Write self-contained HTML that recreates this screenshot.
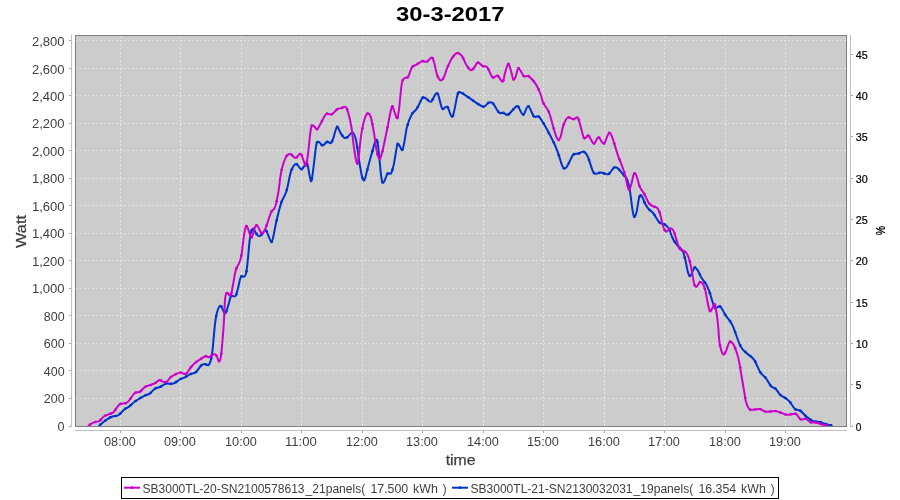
<!DOCTYPE html>
<html><head><meta charset="utf-8"><title>30-3-2017</title>
<style>html,body{margin:0;padding:0;background:#fff;}svg{display:block;will-change:transform;}text{font-family:"Liberation Sans",sans-serif;}</style></head><body>
<svg width="900" height="500" viewBox="0 0 900 500">
<rect x="0" y="0" width="900" height="500" fill="#ffffff"/>
<text x="450.3" y="20.8" font-size="20.5" font-weight="bold" fill="#000" text-anchor="middle" textLength="108.6" lengthAdjust="spacingAndGlyphs">30-3-2017</text>
<rect x="75" y="35" width="772" height="392" fill="#cccccc"/>
<g stroke="#ffffff" stroke-opacity="0.55" stroke-width="0.8" stroke-dasharray="2,2" fill="none"><line x1="76" x2="846" y1="398.50" y2="398.50"/><line x1="76" x2="846" y1="370.50" y2="370.50"/><line x1="76" x2="846" y1="343.50" y2="343.50"/><line x1="76" x2="846" y1="315.50" y2="315.50"/><line x1="76" x2="846" y1="288.50" y2="288.50"/><line x1="76" x2="846" y1="260.50" y2="260.50"/><line x1="76" x2="846" y1="233.50" y2="233.50"/><line x1="76" x2="846" y1="205.50" y2="205.50"/><line x1="76" x2="846" y1="178.50" y2="178.50"/><line x1="76" x2="846" y1="150.50" y2="150.50"/><line x1="76" x2="846" y1="123.50" y2="123.50"/><line x1="76" x2="846" y1="95.50" y2="95.50"/><line x1="76" x2="846" y1="68.50" y2="68.50"/><line x1="76" x2="846" y1="40.50" y2="40.50"/><line x1="120.50" x2="120.50" y1="36" y2="426"/><line x1="180.50" x2="180.50" y1="36" y2="426"/><line x1="241.50" x2="241.50" y1="36" y2="426"/><line x1="301.50" x2="301.50" y1="36" y2="426"/><line x1="362.50" x2="362.50" y1="36" y2="426"/><line x1="422.50" x2="422.50" y1="36" y2="426"/><line x1="483.50" x2="483.50" y1="36" y2="426"/><line x1="543.50" x2="543.50" y1="36" y2="426"/><line x1="604.50" x2="604.50" y1="36" y2="426"/><line x1="664.50" x2="664.50" y1="36" y2="426"/><line x1="725.50" x2="725.50" y1="36" y2="426"/><line x1="785.50" x2="785.50" y1="36" y2="426"/></g>
<clipPath id="cp"><rect x="76" y="36" width="770" height="390.5"/></clipPath>
<g clip-path="url(#cp)" fill="none" stroke-width="2" stroke-linejoin="round" stroke-linecap="round">
<path stroke="#0033cc" d="M99.3,425.5C100.2,424.8 102.8,422.4 104.7,421.0C106.7,419.6 108.9,417.9 111.0,417.0C113.1,416.1 115.8,416.1 117.3,415.6C118.8,415.1 118.8,414.9 120.0,413.8C121.2,412.8 123.0,410.5 124.5,409.3C126.0,408.1 127.2,408.0 129.0,406.6C130.8,405.2 132.8,403.0 135.3,401.2C137.9,399.4 141.9,397.1 144.3,395.8C146.7,394.5 147.9,394.8 149.7,393.6C151.5,392.4 153.3,389.7 155.1,388.6C156.9,387.5 158.7,387.6 160.5,386.8C162.3,386.0 163.8,384.1 165.9,383.6C168.0,383.1 170.7,384.3 173.1,383.6C175.5,382.9 178.4,380.2 180.3,379.2C182.2,378.2 183.2,378.2 184.8,377.4C186.5,376.6 188.4,375.0 190.2,374.2C192.0,373.4 193.8,373.8 195.6,372.4C197.4,371.0 199.5,367.1 201.0,365.7C202.5,364.3 203.4,364.1 204.6,364.0C205.8,363.9 207.2,365.6 208.2,365.2C209.2,364.8 209.7,363.7 210.4,361.6C211.1,359.5 211.7,355.9 212.2,352.6C212.7,349.3 212.8,347.0 213.3,342.0C213.8,337.0 214.5,327.7 215.2,322.5C215.9,317.3 216.6,313.6 217.5,310.8C218.4,308.0 219.5,305.7 220.6,305.8C221.7,305.9 223.0,310.5 223.8,311.7C224.6,312.9 224.8,314.1 225.6,313.0C226.3,311.9 227.4,308.2 228.3,305.4C229.2,302.6 229.8,298.0 231.0,296.4C232.2,294.8 234.3,297.5 235.5,296.0C236.7,294.5 237.3,290.6 238.2,287.4C239.1,284.2 239.8,278.8 240.9,277.0C242.0,275.2 243.6,277.4 244.5,276.6C245.4,275.8 245.8,274.9 246.3,272.1C246.9,269.3 247.2,266.0 247.8,260.0C248.5,254.0 249.3,241.4 250.2,236.2C251.0,231.0 252.0,229.2 252.9,228.6C253.8,228.0 254.7,231.4 255.6,232.6C256.5,233.8 257.4,235.4 258.3,235.8C259.2,236.2 259.8,236.3 261.0,235.3C262.2,234.3 264.3,229.9 265.5,229.9C266.7,229.9 267.2,233.3 268.2,235.3C269.2,237.3 270.5,242.0 271.4,242.0C272.3,242.0 272.8,238.7 273.6,235.3C274.4,231.9 275.0,227.2 276.3,221.8C277.6,216.4 279.5,208.0 281.2,202.9C282.9,197.8 284.9,196.3 286.5,191.0C288.1,185.7 289.5,175.6 291.1,171.1C292.7,166.6 294.4,164.2 296.0,163.9C297.6,163.6 299.6,169.0 301.0,169.3C302.4,169.6 303.6,166.6 304.6,165.7C305.7,164.8 306.5,162.2 307.3,163.9C308.1,165.6 308.9,172.8 309.6,175.6C310.3,178.4 310.7,182.5 311.4,181.0C312.1,179.5 312.8,172.6 313.6,166.6C314.4,160.6 315.5,149.1 316.3,145.0C317.1,140.9 317.6,141.7 318.6,141.8C319.7,141.9 321.2,145.4 322.6,145.4C324.0,145.4 325.8,142.2 327.1,141.8C328.5,141.4 329.6,143.9 330.7,143.2C331.8,142.5 332.3,140.5 333.4,137.8C334.4,135.1 335.9,127.9 337.0,127.0C338.1,126.1 339.0,130.6 340.2,132.4C341.4,134.2 342.9,137.1 344.2,137.8C345.5,138.6 346.4,137.8 347.8,136.9C349.2,136.0 351.0,132.0 352.3,132.4C353.6,132.8 354.7,134.5 355.9,139.6C357.1,144.7 358.4,156.7 359.5,163.0C360.6,169.3 361.4,174.6 362.2,177.4C363.0,180.2 363.6,181.0 364.4,180.1C365.1,179.2 365.4,176.7 366.7,172.0C368.0,167.3 370.5,157.6 372.1,152.2C373.7,146.8 375.1,140.2 376.2,139.6C377.2,139.0 377.6,142.6 378.4,148.6C379.2,154.6 380.3,169.9 381.1,175.6C381.9,181.3 382.3,183.1 383.4,182.8C384.4,182.5 386.1,175.4 387.4,173.8C388.7,172.2 389.9,174.9 391.0,173.4C392.1,171.9 392.6,169.5 393.7,164.8C394.8,160.1 396.3,148.2 397.3,145.0C398.3,141.8 398.8,145.1 399.6,145.9C400.4,146.7 401.4,150.8 402.2,150.0C403.0,149.2 403.7,145.2 404.5,141.4C405.3,137.6 405.8,131.4 407.0,127.0C408.2,122.5 409.9,117.8 411.6,114.7C413.3,111.6 415.2,111.2 417.0,108.4C418.8,105.6 420.9,99.7 422.4,98.0C423.9,96.3 424.6,97.9 426.0,98.5C427.4,99.1 429.1,102.6 431.0,101.7C432.9,100.8 435.3,92.0 437.2,93.1C439.1,94.2 440.5,106.2 442.2,108.4C443.9,110.7 445.5,105.2 447.2,106.6C448.9,107.9 450.8,118.5 452.5,116.5C454.2,114.5 456.2,99.0 457.5,94.9C458.8,90.9 458.6,91.9 460.2,92.2C461.8,92.5 463.6,94.3 467.4,96.7C471.1,99.1 479.2,105.5 482.7,106.6C486.1,107.6 486.5,103.6 488.1,103.0C489.8,102.4 490.8,101.4 492.6,103.0C494.4,104.6 497.1,110.8 498.9,112.4C500.7,114.1 501.9,112.5 503.4,112.9C504.9,113.3 506.1,115.5 507.9,114.7C509.7,114.0 512.6,109.8 514.2,108.4C515.9,107.0 516.3,105.2 517.8,106.2C519.3,107.2 521.5,114.7 523.2,114.7C524.9,114.7 526.4,105.9 528.2,106.2C530.0,106.5 532.3,114.8 534.0,116.5C535.7,118.2 536.9,115.3 538.5,116.4C540.1,117.5 541.0,119.1 543.5,123.3C546.0,127.5 551.0,136.9 553.4,141.8C555.8,146.7 556.4,148.6 557.9,152.6C559.4,156.6 561.2,163.5 562.4,166.1C563.6,168.7 564.1,168.7 565.1,168.4C566.1,168.1 566.9,166.6 568.2,164.3C569.6,162.0 571.5,156.6 573.2,154.8C574.9,153.0 576.9,154.0 578.6,153.5C580.3,153.0 582.1,151.2 583.6,151.7C585.1,152.1 586.0,152.9 587.6,156.2C589.2,159.5 591.6,168.6 593.0,171.5C594.4,174.4 594.9,173.7 596.2,173.8C597.6,174.0 599.1,172.3 601.1,172.4C603.1,172.5 606.2,174.9 608.3,174.2C610.4,173.4 612.2,168.9 613.7,167.9C615.2,166.9 615.7,166.8 617.3,167.9C618.9,169.0 621.5,172.6 623.1,174.5C624.7,176.4 626.0,176.8 627.1,179.4C628.2,182.0 628.9,185.1 629.8,190.2C630.7,195.3 631.8,205.6 632.5,210.0C633.2,214.4 633.6,216.5 634.3,216.8C635.0,217.1 635.8,215.0 636.6,211.8C637.4,208.6 638.4,200.1 639.2,197.4C640.0,194.7 640.5,194.6 641.5,195.6C642.5,196.6 643.9,201.4 645.1,203.7C646.3,205.9 647.4,207.5 648.7,209.1C650.1,210.7 651.4,210.9 653.2,213.2C655.0,215.4 657.7,220.8 659.5,222.6C661.3,224.4 662.5,223.1 664.0,224.0C665.5,224.9 667.1,225.8 668.5,228.0C669.9,230.2 671.1,234.8 672.1,237.0C673.1,239.2 673.3,239.6 674.3,241.2C675.3,242.8 676.7,244.7 678.1,246.3C679.5,247.9 681.4,248.6 682.6,250.8C683.8,253.1 684.4,256.2 685.3,259.8C686.2,263.4 687.2,269.7 688.0,272.4C688.8,275.1 689.5,276.1 690.2,276.0C691.0,275.9 691.7,272.9 692.5,271.5C693.3,270.1 693.9,267.5 694.8,267.4C695.7,267.2 696.8,268.9 697.9,270.6C699.0,272.3 700.1,275.6 701.5,277.8C702.9,280.1 704.6,281.7 706.0,284.1C707.4,286.5 708.4,288.9 709.6,292.2C710.8,295.5 712.2,301.2 713.2,303.9C714.2,306.6 714.4,308.0 715.4,308.4C716.4,308.8 718.4,306.0 719.5,306.2C720.6,306.4 721.2,307.7 722.2,309.3C723.2,310.9 724.6,313.7 725.8,315.6C727.0,317.5 728.4,318.6 729.6,320.5C730.9,322.4 731.5,322.9 733.3,327.2C735.1,331.5 738.2,341.8 740.5,346.1C742.8,350.5 744.5,351.1 746.8,353.3C749.0,355.6 751.8,356.5 754.0,359.6C756.2,362.8 758.3,369.1 760.3,372.2C762.2,375.3 763.9,375.7 765.7,378.0C767.5,380.3 769.5,384.4 771.1,386.2C772.8,388.0 774.1,387.4 775.6,388.8C777.1,390.2 778.6,393.3 780.3,394.9C782.0,396.5 784.2,397.1 785.8,398.3C787.4,399.5 788.6,400.4 790.1,402.2C791.6,404.0 793.3,407.6 795.0,409.0C796.7,410.4 798.7,409.6 800.5,410.8C802.3,412.0 803.9,414.6 806.0,416.3C808.1,418.0 811.0,420.2 813.3,421.2C815.5,422.1 817.5,421.5 819.5,422.0C821.5,422.5 823.6,423.4 825.6,424.0C827.6,424.6 830.7,425.2 831.7,425.5"/>
<g fill="#0033cc" stroke="none"><circle cx="100.3" cy="424.6" r="1.35"/><circle cx="105.4" cy="420.5" r="1.35"/><circle cx="110.4" cy="417.3" r="1.35"/><circle cx="115.5" cy="416.0" r="1.35"/><circle cx="120.5" cy="413.3" r="1.35"/><circle cx="125.5" cy="408.6" r="1.35"/><circle cx="130.6" cy="405.3" r="1.35"/><circle cx="135.6" cy="401.0" r="1.35"/><circle cx="140.7" cy="397.8" r="1.35"/><circle cx="145.7" cy="395.2" r="1.35"/><circle cx="150.7" cy="392.8" r="1.35"/><circle cx="155.8" cy="388.2" r="1.35"/><circle cx="160.8" cy="386.6" r="1.35"/><circle cx="165.8" cy="383.6" r="1.35"/><circle cx="170.9" cy="383.8" r="1.35"/><circle cx="175.9" cy="382.2" r="1.35"/><circle cx="181.0" cy="378.9" r="1.35"/><circle cx="186.0" cy="376.7" r="1.35"/><circle cx="191.0" cy="373.9" r="1.35"/><circle cx="196.1" cy="372.0" r="1.35"/><circle cx="201.1" cy="365.6" r="1.35"/><circle cx="206.1" cy="364.5" r="1.35"/><circle cx="211.2" cy="358.5" r="1.35"/><circle cx="216.2" cy="316.0" r="1.35"/><circle cx="221.3" cy="306.4" r="1.35"/><circle cx="226.3" cy="311.5" r="1.35"/><circle cx="231.3" cy="296.1" r="1.35"/><circle cx="236.4" cy="294.3" r="1.35"/><circle cx="241.4" cy="276.4" r="1.35"/><circle cx="246.4" cy="271.3" r="1.35"/><circle cx="251.5" cy="230.8" r="1.35"/><circle cx="256.5" cy="233.9" r="1.35"/><circle cx="261.6" cy="234.7" r="1.35"/><circle cx="266.6" cy="231.0" r="1.35"/><circle cx="271.6" cy="241.9" r="1.35"/><circle cx="276.7" cy="220.2" r="1.35"/><circle cx="281.7" cy="201.5" r="1.35"/><circle cx="286.7" cy="190.1" r="1.35"/><circle cx="291.8" cy="169.3" r="1.35"/><circle cx="296.8" cy="164.2" r="1.35"/><circle cx="301.9" cy="169.1" r="1.35"/><circle cx="306.9" cy="163.4" r="1.35"/><circle cx="311.9" cy="178.8" r="1.35"/><circle cx="317.0" cy="142.4" r="1.35"/><circle cx="322.0" cy="145.2" r="1.35"/><circle cx="327.1" cy="141.8" r="1.35"/><circle cx="332.1" cy="141.2" r="1.35"/><circle cx="337.1" cy="126.9" r="1.35"/><circle cx="342.2" cy="135.5" r="1.35"/><circle cx="347.2" cy="137.3" r="1.35"/><circle cx="352.2" cy="132.4" r="1.35"/><circle cx="357.3" cy="147.5" r="1.35"/><circle cx="362.3" cy="177.8" r="1.35"/><circle cx="367.4" cy="169.6" r="1.35"/><circle cx="372.4" cy="151.2" r="1.35"/><circle cx="377.4" cy="141.9" r="1.35"/><circle cx="382.5" cy="182.2" r="1.35"/><circle cx="387.5" cy="173.7" r="1.35"/><circle cx="392.5" cy="169.6" r="1.35"/><circle cx="397.6" cy="144.2" r="1.35"/><circle cx="402.6" cy="149.3" r="1.35"/><circle cx="407.7" cy="124.7" r="1.35"/><circle cx="412.7" cy="113.0" r="1.35"/><circle cx="417.7" cy="107.1" r="1.35"/><circle cx="422.8" cy="97.6" r="1.35"/><circle cx="427.8" cy="100.1" r="1.35"/><circle cx="432.8" cy="99.2" r="1.35"/><circle cx="437.9" cy="94.0" r="1.35"/><circle cx="442.9" cy="108.9" r="1.35"/><circle cx="448.0" cy="107.7" r="1.35"/><circle cx="453.0" cy="115.6" r="1.35"/><circle cx="458.0" cy="93.3" r="1.35"/><circle cx="463.1" cy="93.7" r="1.35"/><circle cx="468.1" cy="97.2" r="1.35"/><circle cx="473.2" cy="100.7" r="1.35"/><circle cx="478.2" cy="104.2" r="1.35"/><circle cx="483.2" cy="106.7" r="1.35"/><circle cx="488.3" cy="102.9" r="1.35"/><circle cx="493.3" cy="103.8" r="1.35"/><circle cx="498.3" cy="111.8" r="1.35"/><circle cx="503.4" cy="112.9" r="1.35"/><circle cx="508.4" cy="114.4" r="1.35"/><circle cx="513.5" cy="109.1" r="1.35"/><circle cx="518.5" cy="107.0" r="1.35"/><circle cx="523.5" cy="114.6" r="1.35"/><circle cx="528.6" cy="106.4" r="1.35"/><circle cx="533.6" cy="116.0" r="1.35"/><circle cx="538.6" cy="116.5" r="1.35"/><circle cx="543.7" cy="123.6" r="1.35"/><circle cx="548.7" cy="132.8" r="1.35"/><circle cx="553.8" cy="142.5" r="1.35"/><circle cx="558.8" cy="155.2" r="1.35"/><circle cx="563.8" cy="168.3" r="1.35"/><circle cx="568.9" cy="163.0" r="1.35"/><circle cx="573.9" cy="154.2" r="1.35"/><circle cx="578.9" cy="153.4" r="1.35"/><circle cx="584.0" cy="151.8" r="1.35"/><circle cx="589.0" cy="159.9" r="1.35"/><circle cx="594.1" cy="173.2" r="1.35"/><circle cx="599.1" cy="172.8" r="1.35"/><circle cx="604.1" cy="173.4" r="1.35"/><circle cx="609.2" cy="173.7" r="1.35"/><circle cx="614.2" cy="167.6" r="1.35"/><circle cx="619.2" cy="169.8" r="1.35"/><circle cx="624.3" cy="175.7" r="1.35"/><circle cx="629.3" cy="187.6" r="1.35"/><circle cx="634.4" cy="216.8" r="1.35"/><circle cx="639.4" cy="196.8" r="1.35"/><circle cx="644.4" cy="202.3" r="1.35"/><circle cx="649.5" cy="209.9" r="1.35"/><circle cx="654.5" cy="215.1" r="1.35"/><circle cx="659.6" cy="222.6" r="1.35"/><circle cx="664.6" cy="224.4" r="1.35"/><circle cx="669.6" cy="230.3" r="1.35"/><circle cx="674.7" cy="241.8" r="1.35"/><circle cx="679.7" cy="247.7" r="1.35"/><circle cx="684.7" cy="257.5" r="1.35"/><circle cx="689.8" cy="276.0" r="1.35"/><circle cx="694.8" cy="267.4" r="1.35"/><circle cx="699.9" cy="274.5" r="1.35"/><circle cx="704.9" cy="282.4" r="1.35"/><circle cx="709.9" cy="293.2" r="1.35"/><circle cx="715.0" cy="308.1" r="1.35"/><circle cx="720.0" cy="306.4" r="1.35"/><circle cx="725.0" cy="314.4" r="1.35"/><circle cx="730.1" cy="321.2" r="1.35"/><circle cx="735.1" cy="332.0" r="1.35"/><circle cx="740.2" cy="345.4" r="1.35"/><circle cx="745.2" cy="351.8" r="1.35"/><circle cx="750.2" cy="356.0" r="1.35"/><circle cx="755.3" cy="361.7" r="1.35"/><circle cx="760.3" cy="372.2" r="1.35"/><circle cx="765.3" cy="377.6" r="1.35"/><circle cx="770.4" cy="385.3" r="1.35"/><circle cx="775.4" cy="388.6" r="1.35"/><circle cx="780.5" cy="395.0" r="1.35"/><circle cx="785.5" cy="398.1" r="1.35"/><circle cx="790.5" cy="402.8" r="1.35"/><circle cx="795.6" cy="409.4" r="1.35"/><circle cx="800.6" cy="410.9" r="1.35"/><circle cx="805.7" cy="416.0" r="1.35"/><circle cx="810.7" cy="419.8" r="1.35"/><circle cx="815.7" cy="421.7" r="1.35"/><circle cx="820.8" cy="422.3" r="1.35"/><circle cx="825.8" cy="424.1" r="1.35"/><circle cx="830.8" cy="425.3" r="1.35"/></g>
<path stroke="#cc00cc" d="M88.5,425.5C89.4,425.0 92.1,423.1 93.9,422.4C95.7,421.6 97.7,422.0 99.3,421.0C100.9,420.0 102.1,417.6 103.8,416.5C105.5,415.4 107.5,414.9 109.2,414.2C110.9,413.4 112.0,413.6 113.7,412.0C115.4,410.4 117.3,406.0 119.6,404.4C121.8,402.8 124.7,404.3 127.2,402.5C129.7,400.7 132.3,395.3 134.4,393.5C136.5,391.7 138.0,392.9 139.8,391.8C141.6,390.7 143.4,387.9 145.2,386.8C147.0,385.7 148.9,385.6 150.6,385.0C152.2,384.4 153.6,384.0 155.1,383.2C156.6,382.4 158.2,380.2 159.6,380.0C160.9,379.8 162.0,381.5 163.2,381.8C164.4,382.1 165.6,382.5 166.8,381.8C168.0,381.1 168.9,378.7 170.4,377.4C171.9,376.1 174.2,375.0 175.8,374.2C177.5,373.4 179.0,372.5 180.3,372.4C181.7,372.3 182.9,373.6 183.9,373.8C184.9,374.0 185.4,374.4 186.6,373.3C187.8,372.2 189.6,368.8 191.1,367.0C192.6,365.2 193.9,363.9 195.6,362.5C197.2,361.1 199.3,359.9 201.0,358.9C202.7,357.8 204.2,356.5 205.5,356.2C206.8,355.9 207.6,357.5 209.1,357.1C210.6,356.7 213.2,354.0 214.5,354.0C215.8,354.0 216.4,355.8 217.2,357.1C217.9,358.4 218.4,362.0 219.0,362.0C219.6,362.0 220.2,360.3 220.8,357.1C221.4,353.9 221.8,348.6 222.3,343.0C222.8,337.4 223.3,330.9 223.8,323.4C224.3,315.9 224.6,303.3 225.2,298.2C225.8,293.1 226.4,293.4 227.4,292.8C228.4,292.2 229.7,298.2 231.0,294.6C232.3,291.0 234.2,276.4 235.5,271.2C236.8,265.9 238.1,265.6 239.1,263.1C240.1,260.6 240.5,260.5 241.3,256.0C242.1,251.5 243.2,241.0 243.9,236.2C244.6,231.4 245.1,228.7 245.7,227.2C246.3,225.7 246.8,225.8 247.5,227.2C248.2,228.5 249.4,233.7 250.2,235.3C250.9,237.0 251.4,237.8 252.0,237.1C252.6,236.3 253.1,232.8 253.8,230.8C254.5,228.9 255.2,226.0 256.0,225.4C256.8,224.8 257.5,226.0 258.3,227.2C259.1,228.4 260.2,231.6 261.0,232.6C261.8,233.6 262.4,233.9 263.2,233.0C264.0,232.1 264.7,230.6 266.0,227.2C267.3,223.8 269.5,216.0 270.9,212.8C272.3,209.7 273.6,210.0 274.5,208.3C275.4,206.7 275.6,206.1 276.3,202.9C277.0,199.7 278.0,194.5 278.8,189.3C279.6,184.2 280.1,177.3 281.2,172.0C282.3,166.7 284.2,160.6 285.7,157.6C287.2,154.6 288.5,153.9 290.2,154.0C291.9,154.1 293.9,158.1 295.6,158.0C297.3,157.9 299.2,153.1 300.6,153.6C302.0,154.1 302.8,159.2 303.7,161.2C304.6,163.2 305.2,167.2 306.0,165.7C306.8,164.2 307.4,158.3 308.2,152.2C309.0,146.0 310.1,133.2 310.9,128.8C311.7,124.4 312.1,125.5 313.2,125.6C314.2,125.7 315.9,129.7 317.2,129.2C318.5,128.7 319.7,125.0 321.2,122.5C322.7,120.0 324.5,115.3 326.2,114.0C327.9,112.7 329.8,115.2 331.6,114.4C333.4,113.6 335.4,110.5 337.0,109.4C338.6,108.4 340.1,108.5 341.5,108.1C342.9,107.7 344.5,106.0 345.6,106.8C346.7,107.5 347.2,109.2 348.2,112.6C349.2,116.0 350.4,121.0 351.4,127.0C352.4,133.0 353.2,142.6 354.1,148.6C355.0,154.6 356.1,161.5 356.8,163.0C357.6,164.5 357.9,162.4 358.6,157.6C359.4,152.8 360.2,140.8 361.3,134.2C362.4,127.6 363.8,121.5 364.9,118.0C366.0,114.5 367.0,113.7 368.0,113.5C369.0,113.3 369.8,113.9 370.8,117.1C371.8,120.2 372.9,126.9 373.9,132.4C374.9,138.0 375.7,146.0 376.6,150.4C377.5,154.8 378.4,158.6 379.3,159.0C380.2,159.4 380.8,157.5 382.0,153.1C383.2,148.7 385.1,138.9 386.5,132.4C387.9,125.9 389.2,118.4 390.1,114.0C391.1,109.6 391.5,106.5 392.2,106.2C392.9,105.9 393.7,110.0 394.5,112.0C395.3,114.0 396.4,118.7 397.2,118.3C397.9,117.9 398.2,115.2 399.0,109.5C399.8,103.8 400.8,89.3 401.7,84.1C402.6,78.9 403.3,79.4 404.4,78.2C405.4,77.0 406.7,78.7 408.0,76.9C409.3,75.1 410.5,69.5 412.0,67.4C413.5,65.3 415.3,65.3 417.0,64.3C418.7,63.3 420.4,61.7 422.0,61.2C423.6,60.8 425.3,62.2 426.9,61.6C428.5,61.0 430.6,57.4 431.8,57.5C433.0,57.6 433.2,59.6 434.1,62.5C435.0,65.4 436.1,72.1 437.2,75.1C438.3,78.1 439.8,80.2 440.9,80.5C442.0,80.8 442.9,79.0 444.0,76.9C445.1,74.8 445.8,71.1 447.2,67.9C448.6,64.8 450.4,60.5 452.1,58.0C453.8,55.5 455.9,53.3 457.5,53.0C459.1,52.7 460.5,54.2 462.0,56.2C463.5,58.2 465.0,62.9 466.5,65.2C468.0,67.5 469.6,69.9 471.0,70.2C472.4,70.5 473.5,68.3 474.6,67.0C475.7,65.7 476.5,62.6 477.8,62.5C479.1,62.4 481.1,65.3 482.7,66.1C484.3,66.9 485.5,65.5 487.2,67.4C488.9,69.3 490.9,76.0 492.6,77.4C494.3,78.8 496.0,74.9 497.6,75.6C499.2,76.3 501.2,82.3 502.5,81.8C503.8,81.3 504.2,75.4 505.2,72.4C506.1,69.4 507.3,64.2 508.2,63.8C509.1,63.3 509.8,67.1 510.6,69.7C511.5,72.3 512.5,78.0 513.3,79.2C514.1,80.4 514.8,78.7 515.6,76.9C516.4,75.1 517.3,69.5 518.1,68.4C518.9,67.4 519.5,69.3 520.5,70.6C521.5,71.9 522.8,75.5 524.1,76.4C525.4,77.3 526.7,75.3 528.2,76.0C529.7,76.7 531.5,78.6 533.1,80.5C534.7,82.4 536.3,84.7 537.6,87.2C538.9,89.7 540.0,92.9 541.0,95.5C542.0,98.1 542.0,100.2 543.3,103.0C544.6,105.8 547.2,108.0 548.9,112.1C550.6,116.2 552.1,123.2 553.4,127.4C554.7,131.6 555.7,135.2 556.6,137.3C557.5,139.4 558.1,140.3 558.8,140.0C559.5,139.7 560.2,137.9 561.0,135.5C561.8,133.1 562.2,128.6 563.3,125.6C564.4,122.6 566.1,118.5 567.8,117.5C569.4,116.5 571.6,119.3 573.2,119.3C574.9,119.3 576.5,116.5 577.7,117.5C578.9,118.5 579.4,122.3 580.4,125.6C581.4,128.9 582.7,135.3 583.6,137.3C584.5,139.3 585.0,138.1 585.8,137.8C586.6,137.5 587.1,134.5 588.5,135.5C589.9,136.5 592.2,143.3 593.9,143.6C595.5,143.9 596.8,137.3 598.4,137.3C600.0,137.3 602.1,144.3 603.8,143.6C605.5,142.9 607.4,134.4 608.8,133.2C610.1,132.0 610.3,132.6 611.9,136.4C613.5,140.2 616.5,151.3 618.2,156.2C619.9,161.0 620.7,162.2 621.9,165.5C623.1,168.8 624.3,172.3 625.3,175.8C626.2,179.3 626.9,184.3 627.6,186.6C628.3,188.9 628.7,190.4 629.4,189.8C630.1,189.2 630.9,185.6 631.6,183.0C632.4,180.4 633.1,175.3 633.9,174.0C634.6,172.7 635.1,172.8 636.1,174.9C637.1,177.0 638.4,183.4 639.7,186.6C641.1,189.8 642.7,191.1 644.2,193.8C645.7,196.5 647.2,200.7 648.7,202.8C650.2,204.9 651.8,205.6 653.2,206.4C654.6,207.2 656.1,206.6 657.2,207.8C658.3,209.0 659.0,210.5 660.0,213.6C661.0,216.7 662.1,223.2 663.1,226.2C664.1,229.2 664.9,231.0 665.8,231.6C666.7,232.2 667.6,230.3 668.5,229.8C669.4,229.3 670.3,228.1 671.2,228.4C672.1,228.7 673.0,229.5 673.9,231.6C674.8,233.7 675.9,238.3 676.9,241.2C677.9,244.1 678.3,247.1 679.9,249.0C681.5,250.9 684.6,250.8 686.2,252.6C687.8,254.4 688.4,256.5 689.4,259.8C690.4,263.1 691.2,268.3 692.0,272.4C692.8,276.4 693.5,281.7 694.3,284.1C695.1,286.5 695.7,287.1 696.6,286.8C697.5,286.5 698.7,282.9 699.7,282.3C700.7,281.7 701.5,282.0 702.4,283.2C703.3,284.4 704.2,286.2 705.1,289.5C706.0,292.8 707.0,299.4 707.8,303.0C708.6,306.6 709.2,310.2 710.0,311.1C710.8,312.0 711.5,309.6 712.3,308.4C713.1,307.2 713.9,303.3 714.6,303.9C715.3,304.5 715.8,308.6 716.4,312.0C717.0,315.4 717.5,319.6 718.0,324.5C718.5,329.4 718.8,337.1 719.4,341.6C720.0,346.1 720.9,349.3 721.6,351.5C722.3,353.7 723.0,354.8 723.8,354.6C724.5,354.5 725.2,352.6 726.1,350.6C727.0,348.6 728.3,343.9 729.2,342.5C730.1,341.1 730.5,341.1 731.5,342.0C732.5,342.9 733.9,345.0 735.1,347.9C736.3,350.8 737.6,354.7 738.7,359.6C739.8,364.6 740.8,371.9 741.8,377.6C742.8,383.3 743.9,389.9 744.6,394.0C745.3,398.1 745.3,399.7 746.1,402.2C746.9,404.7 748.2,407.7 749.2,409.0C750.2,410.3 750.5,409.8 752.2,409.8C753.9,409.8 757.2,408.7 759.6,409.0C762.0,409.3 763.6,411.5 766.3,411.8C768.9,412.1 772.4,410.6 775.5,411.0C778.6,411.4 783.0,413.8 785.2,414.4C787.4,415.0 787.2,414.8 788.9,414.7C790.6,414.6 793.8,413.1 795.6,413.8C797.4,414.5 798.8,417.7 799.9,418.7C801.0,419.7 801.3,419.6 802.3,419.6C803.3,419.6 804.6,418.2 806.0,418.7C807.4,419.2 809.3,421.8 810.9,422.4C812.5,423.0 813.8,422.0 815.8,422.4C817.8,422.8 821.2,424.3 823.1,424.8C825.0,425.3 826.7,425.4 827.4,425.5"/>
<g fill="#cc00cc" stroke="none"><circle cx="90.3" cy="424.4" r="1.35"/><circle cx="95.3" cy="422.0" r="1.35"/><circle cx="100.3" cy="420.2" r="1.35"/><circle cx="105.4" cy="415.6" r="1.35"/><circle cx="110.4" cy="413.7" r="1.35"/><circle cx="115.5" cy="409.7" r="1.35"/><circle cx="120.5" cy="403.9" r="1.35"/><circle cx="125.5" cy="403.3" r="1.35"/><circle cx="130.6" cy="398.5" r="1.35"/><circle cx="135.6" cy="392.7" r="1.35"/><circle cx="140.7" cy="391.2" r="1.35"/><circle cx="145.7" cy="386.5" r="1.35"/><circle cx="150.7" cy="385.0" r="1.35"/><circle cx="155.8" cy="382.8" r="1.35"/><circle cx="160.8" cy="380.3" r="1.35"/><circle cx="165.8" cy="382.2" r="1.35"/><circle cx="170.9" cy="377.0" r="1.35"/><circle cx="175.9" cy="374.1" r="1.35"/><circle cx="181.0" cy="372.5" r="1.35"/><circle cx="186.0" cy="373.8" r="1.35"/><circle cx="191.0" cy="367.1" r="1.35"/><circle cx="196.1" cy="362.1" r="1.35"/><circle cx="201.1" cy="358.8" r="1.35"/><circle cx="206.1" cy="356.2" r="1.35"/><circle cx="211.2" cy="355.9" r="1.35"/><circle cx="216.2" cy="355.3" r="1.35"/><circle cx="221.3" cy="353.8" r="1.35"/><circle cx="226.3" cy="293.6" r="1.35"/><circle cx="231.3" cy="293.5" r="1.35"/><circle cx="236.4" cy="268.4" r="1.35"/><circle cx="241.4" cy="255.4" r="1.35"/><circle cx="246.4" cy="226.1" r="1.35"/><circle cx="251.5" cy="237.4" r="1.35"/><circle cx="256.5" cy="225.3" r="1.35"/><circle cx="261.6" cy="233.2" r="1.35"/><circle cx="266.6" cy="225.5" r="1.35"/><circle cx="271.6" cy="211.4" r="1.35"/><circle cx="276.7" cy="201.2" r="1.35"/><circle cx="281.7" cy="169.8" r="1.35"/><circle cx="286.7" cy="155.8" r="1.35"/><circle cx="291.8" cy="154.9" r="1.35"/><circle cx="296.8" cy="157.3" r="1.35"/><circle cx="301.9" cy="155.5" r="1.35"/><circle cx="306.9" cy="161.8" r="1.35"/><circle cx="311.9" cy="125.5" r="1.35"/><circle cx="317.0" cy="129.2" r="1.35"/><circle cx="322.0" cy="121.0" r="1.35"/><circle cx="327.1" cy="113.6" r="1.35"/><circle cx="332.1" cy="114.1" r="1.35"/><circle cx="337.1" cy="109.3" r="1.35"/><circle cx="342.2" cy="107.8" r="1.35"/><circle cx="347.2" cy="109.4" r="1.35"/><circle cx="352.2" cy="133.1" r="1.35"/><circle cx="357.3" cy="163.5" r="1.35"/><circle cx="362.3" cy="128.5" r="1.35"/><circle cx="367.4" cy="113.7" r="1.35"/><circle cx="372.4" cy="124.0" r="1.35"/><circle cx="377.4" cy="154.2" r="1.35"/><circle cx="382.5" cy="151.3" r="1.35"/><circle cx="387.5" cy="127.3" r="1.35"/><circle cx="392.5" cy="106.4" r="1.35"/><circle cx="397.6" cy="117.8" r="1.35"/><circle cx="402.6" cy="80.4" r="1.35"/><circle cx="407.7" cy="77.3" r="1.35"/><circle cx="412.7" cy="66.6" r="1.35"/><circle cx="417.7" cy="63.8" r="1.35"/><circle cx="422.8" cy="61.1" r="1.35"/><circle cx="427.8" cy="61.0" r="1.35"/><circle cx="432.8" cy="58.4" r="1.35"/><circle cx="437.9" cy="76.7" r="1.35"/><circle cx="442.9" cy="78.9" r="1.35"/><circle cx="448.0" cy="66.1" r="1.35"/><circle cx="453.0" cy="56.8" r="1.35"/><circle cx="458.0" cy="53.0" r="1.35"/><circle cx="463.1" cy="58.0" r="1.35"/><circle cx="468.1" cy="67.6" r="1.35"/><circle cx="473.2" cy="68.9" r="1.35"/><circle cx="478.2" cy="62.5" r="1.35"/><circle cx="483.2" cy="66.3" r="1.35"/><circle cx="488.3" cy="69.1" r="1.35"/><circle cx="493.3" cy="77.7" r="1.35"/><circle cx="498.3" cy="76.2" r="1.35"/><circle cx="503.4" cy="80.4" r="1.35"/><circle cx="508.4" cy="63.8" r="1.35"/><circle cx="513.5" cy="79.4" r="1.35"/><circle cx="518.5" cy="68.1" r="1.35"/><circle cx="523.5" cy="75.8" r="1.35"/><circle cx="528.6" cy="76.2" r="1.35"/><circle cx="533.6" cy="81.1" r="1.35"/><circle cx="538.6" cy="89.4" r="1.35"/><circle cx="543.7" cy="103.7" r="1.35"/><circle cx="548.7" cy="111.7" r="1.35"/><circle cx="553.8" cy="128.6" r="1.35"/><circle cx="558.8" cy="140.0" r="1.35"/><circle cx="563.8" cy="124.2" r="1.35"/><circle cx="568.9" cy="117.3" r="1.35"/><circle cx="573.9" cy="119.1" r="1.35"/><circle cx="578.9" cy="120.1" r="1.35"/><circle cx="584.0" cy="138.0" r="1.35"/><circle cx="589.0" cy="136.1" r="1.35"/><circle cx="594.1" cy="143.6" r="1.35"/><circle cx="599.1" cy="137.7" r="1.35"/><circle cx="604.1" cy="143.4" r="1.35"/><circle cx="609.2" cy="132.9" r="1.35"/><circle cx="614.2" cy="143.3" r="1.35"/><circle cx="619.2" cy="159.1" r="1.35"/><circle cx="624.3" cy="172.4" r="1.35"/><circle cx="629.3" cy="189.9" r="1.35"/><circle cx="634.4" cy="173.3" r="1.35"/><circle cx="639.4" cy="185.8" r="1.35"/><circle cx="644.4" cy="194.2" r="1.35"/><circle cx="649.5" cy="203.8" r="1.35"/><circle cx="654.5" cy="206.8" r="1.35"/><circle cx="659.6" cy="212.3" r="1.35"/><circle cx="664.6" cy="230.0" r="1.35"/><circle cx="669.6" cy="229.0" r="1.35"/><circle cx="674.7" cy="233.7" r="1.35"/><circle cx="679.7" cy="248.7" r="1.35"/><circle cx="684.7" cy="251.5" r="1.35"/><circle cx="689.8" cy="261.2" r="1.35"/><circle cx="694.8" cy="285.5" r="1.35"/><circle cx="699.9" cy="282.2" r="1.35"/><circle cx="704.9" cy="288.8" r="1.35"/><circle cx="709.9" cy="311.0" r="1.35"/><circle cx="715.0" cy="304.6" r="1.35"/><circle cx="720.0" cy="345.3" r="1.35"/><circle cx="725.0" cy="353.0" r="1.35"/><circle cx="730.1" cy="341.5" r="1.35"/><circle cx="735.1" cy="348.0" r="1.35"/><circle cx="740.2" cy="367.4" r="1.35"/><circle cx="745.2" cy="397.8" r="1.35"/><circle cx="750.2" cy="409.8" r="1.35"/><circle cx="755.3" cy="409.3" r="1.35"/><circle cx="760.3" cy="409.2" r="1.35"/><circle cx="765.3" cy="411.6" r="1.35"/><circle cx="770.4" cy="411.4" r="1.35"/><circle cx="775.4" cy="411.0" r="1.35"/><circle cx="780.5" cy="412.5" r="1.35"/><circle cx="785.5" cy="414.5" r="1.35"/><circle cx="790.5" cy="414.4" r="1.35"/><circle cx="795.6" cy="413.8" r="1.35"/><circle cx="800.6" cy="419.3" r="1.35"/><circle cx="805.7" cy="418.6" r="1.35"/><circle cx="810.7" cy="422.3" r="1.35"/><circle cx="815.7" cy="422.4" r="1.35"/><circle cx="820.8" cy="424.0" r="1.35"/><circle cx="825.8" cy="425.3" r="1.35"/></g>
</g>
<rect x="75.5" y="35.5" width="771" height="391" fill="none" stroke="#7f7f7f" stroke-width="1"/>
<g stroke="#bfbfbf" stroke-width="1" fill="none" shape-rendering="crispEdges">
<line x1="71.5" x2="71.5" y1="35" y2="427"/>
<line x1="850.5" x2="850.5" y1="35" y2="427"/>
<line x1="75" x2="847" y1="430.5" y2="430.5"/>
</g>
<g stroke="#a6a6a6" stroke-width="1" fill="none"><line x1="69" x2="71" y1="426.50" y2="426.50"/><line x1="69" x2="71" y1="398.50" y2="398.50"/><line x1="69" x2="71" y1="370.50" y2="370.50"/><line x1="69" x2="71" y1="343.50" y2="343.50"/><line x1="69" x2="71" y1="315.50" y2="315.50"/><line x1="69" x2="71" y1="288.50" y2="288.50"/><line x1="69" x2="71" y1="260.50" y2="260.50"/><line x1="69" x2="71" y1="233.50" y2="233.50"/><line x1="69" x2="71" y1="205.50" y2="205.50"/><line x1="69" x2="71" y1="178.50" y2="178.50"/><line x1="69" x2="71" y1="150.50" y2="150.50"/><line x1="69" x2="71" y1="123.50" y2="123.50"/><line x1="69" x2="71" y1="95.50" y2="95.50"/><line x1="69" x2="71" y1="68.50" y2="68.50"/><line x1="69" x2="71" y1="40.50" y2="40.50"/><line x1="851" x2="853" y1="426.50" y2="426.50"/><line x1="851" x2="853" y1="384.50" y2="384.50"/><line x1="851" x2="853" y1="343.50" y2="343.50"/><line x1="851" x2="853" y1="302.50" y2="302.50"/><line x1="851" x2="853" y1="260.50" y2="260.50"/><line x1="851" x2="853" y1="219.50" y2="219.50"/><line x1="851" x2="853" y1="178.50" y2="178.50"/><line x1="851" x2="853" y1="136.50" y2="136.50"/><line x1="851" x2="853" y1="95.50" y2="95.50"/><line x1="851" x2="853" y1="54.50" y2="54.50"/><line x1="120.50" x2="120.50" y1="431" y2="433"/><line x1="180.50" x2="180.50" y1="431" y2="433"/><line x1="241.50" x2="241.50" y1="431" y2="433"/><line x1="301.50" x2="301.50" y1="431" y2="433"/><line x1="362.50" x2="362.50" y1="431" y2="433"/><line x1="422.50" x2="422.50" y1="431" y2="433"/><line x1="483.50" x2="483.50" y1="431" y2="433"/><line x1="543.50" x2="543.50" y1="431" y2="433"/><line x1="604.50" x2="604.50" y1="431" y2="433"/><line x1="664.50" x2="664.50" y1="431" y2="433"/><line x1="725.50" x2="725.50" y1="431" y2="433"/><line x1="785.50" x2="785.50" y1="431" y2="433"/></g>
<g font-size="12" fill="#404040"><text x="64.6" y="430.6" text-anchor="end" textLength="7.0" lengthAdjust="spacingAndGlyphs">0</text><text x="64.6" y="403.1" text-anchor="end" textLength="20.8" lengthAdjust="spacingAndGlyphs">200</text><text x="64.6" y="375.7" text-anchor="end" textLength="20.8" lengthAdjust="spacingAndGlyphs">400</text><text x="64.6" y="348.2" text-anchor="end" textLength="20.8" lengthAdjust="spacingAndGlyphs">600</text><text x="64.6" y="320.7" text-anchor="end" textLength="20.8" lengthAdjust="spacingAndGlyphs">800</text><text x="64.6" y="293.2" text-anchor="end" textLength="32.6" lengthAdjust="spacingAndGlyphs">1,000</text><text x="64.6" y="265.8" text-anchor="end" textLength="32.6" lengthAdjust="spacingAndGlyphs">1,200</text><text x="64.6" y="238.3" text-anchor="end" textLength="32.6" lengthAdjust="spacingAndGlyphs">1,400</text><text x="64.6" y="210.8" text-anchor="end" textLength="32.6" lengthAdjust="spacingAndGlyphs">1,600</text><text x="64.6" y="183.4" text-anchor="end" textLength="32.6" lengthAdjust="spacingAndGlyphs">1,800</text><text x="64.6" y="155.9" text-anchor="end" textLength="32.6" lengthAdjust="spacingAndGlyphs">2,000</text><text x="64.6" y="128.4" text-anchor="end" textLength="32.6" lengthAdjust="spacingAndGlyphs">2,200</text><text x="64.6" y="101.0" text-anchor="end" textLength="32.6" lengthAdjust="spacingAndGlyphs">2,400</text><text x="64.6" y="73.5" text-anchor="end" textLength="32.6" lengthAdjust="spacingAndGlyphs">2,600</text><text x="64.6" y="46.0" text-anchor="end" textLength="32.6" lengthAdjust="spacingAndGlyphs">2,800</text></g>
<g font-size="10" fill="#000" stroke="#000" stroke-width="0.2"><text x="855.7" y="430.6" textLength="5.6" lengthAdjust="spacingAndGlyphs">0</text><text x="855.7" y="388.6" textLength="5.6" lengthAdjust="spacingAndGlyphs">5</text><text x="855.7" y="347.6" textLength="12.0" lengthAdjust="spacingAndGlyphs">10</text><text x="855.7" y="306.6" textLength="12.0" lengthAdjust="spacingAndGlyphs">15</text><text x="855.7" y="264.6" textLength="12.0" lengthAdjust="spacingAndGlyphs">20</text><text x="855.7" y="223.6" textLength="12.0" lengthAdjust="spacingAndGlyphs">25</text><text x="855.7" y="182.6" textLength="12.0" lengthAdjust="spacingAndGlyphs">30</text><text x="855.7" y="140.6" textLength="12.0" lengthAdjust="spacingAndGlyphs">35</text><text x="855.7" y="99.6" textLength="12.0" lengthAdjust="spacingAndGlyphs">40</text><text x="855.7" y="58.6" textLength="12.0" lengthAdjust="spacingAndGlyphs">45</text></g>
<g font-size="12" fill="#404040"><text x="119.9" y="446.4" text-anchor="middle" textLength="31.8" lengthAdjust="spacingAndGlyphs">08:00</text><text x="179.9" y="446.4" text-anchor="middle" textLength="31.8" lengthAdjust="spacingAndGlyphs">09:00</text><text x="240.9" y="446.4" text-anchor="middle" textLength="31.8" lengthAdjust="spacingAndGlyphs">10:00</text><text x="300.9" y="446.4" text-anchor="middle" textLength="31.8" lengthAdjust="spacingAndGlyphs">11:00</text><text x="361.9" y="446.4" text-anchor="middle" textLength="31.8" lengthAdjust="spacingAndGlyphs">12:00</text><text x="421.9" y="446.4" text-anchor="middle" textLength="31.8" lengthAdjust="spacingAndGlyphs">13:00</text><text x="482.9" y="446.4" text-anchor="middle" textLength="31.8" lengthAdjust="spacingAndGlyphs">14:00</text><text x="542.9" y="446.4" text-anchor="middle" textLength="31.8" lengthAdjust="spacingAndGlyphs">15:00</text><text x="603.9" y="446.4" text-anchor="middle" textLength="31.8" lengthAdjust="spacingAndGlyphs">16:00</text><text x="663.9" y="446.4" text-anchor="middle" textLength="31.8" lengthAdjust="spacingAndGlyphs">17:00</text><text x="724.9" y="446.4" text-anchor="middle" textLength="31.8" lengthAdjust="spacingAndGlyphs">18:00</text><text x="784.9" y="446.4" text-anchor="middle" textLength="31.8" lengthAdjust="spacingAndGlyphs">19:00</text></g>
<text x="460.7" y="465.3" font-size="14" fill="#404040" stroke="#404040" stroke-width="0.25" text-anchor="middle" textLength="30" lengthAdjust="spacingAndGlyphs">time</text>
<text transform="translate(25.7,231.5) rotate(-90)" font-size="15" fill="#404040" stroke="#404040" stroke-width="0.25" text-anchor="middle" textLength="33" lengthAdjust="spacingAndGlyphs">Watt</text>
<text transform="translate(885.1,230.5) rotate(-90)" font-size="13" fill="#000" stroke="#000" stroke-width="0.3" text-anchor="middle" textLength="9.3" lengthAdjust="spacingAndGlyphs">%</text>
<rect x="121.5" y="477.5" width="657" height="21" fill="#ffffff" stroke="#000" stroke-width="1"/>
<line x1="124" x2="140" y1="487.7" y2="487.7" stroke="#cc00cc" stroke-width="2"/>
<line x1="452" x2="468" y1="487.7" y2="487.7" stroke="#0033cc" stroke-width="2"/>
<circle cx="132" cy="487.7" r="1.4" fill="#cc00cc"/><circle cx="460" cy="487.7" r="1.4" fill="#0033cc"/>
<text x="142.4" y="492.6" font-size="12" fill="#404040" textLength="162.2" lengthAdjust="spacingAndGlyphs">SB3000TL-20-SN2100578613</text>
<text x="305.6" y="492.6" font-size="12" fill="#404040" textLength="59.6" lengthAdjust="spacingAndGlyphs">_21panels(</text>
<text x="370.4" y="492.6" font-size="12" fill="#404040" textLength="37.8" lengthAdjust="spacingAndGlyphs">17.500</text>
<text x="413.0" y="492.6" font-size="12" fill="#404040" textLength="24.8" lengthAdjust="spacingAndGlyphs">kWh</text>
<text x="442.8" y="492.6" font-size="12" fill="#404040" textLength="3.8" lengthAdjust="spacingAndGlyphs">)</text>
<text x="470.4" y="492.6" font-size="12" fill="#404040" textLength="162.2" lengthAdjust="spacingAndGlyphs">SB3000TL-21-SN2130032031</text>
<text x="633.6" y="492.6" font-size="12" fill="#404040" textLength="59.6" lengthAdjust="spacingAndGlyphs">_19panels(</text>
<text x="698.4" y="492.6" font-size="12" fill="#404040" textLength="37.8" lengthAdjust="spacingAndGlyphs">16.354</text>
<text x="741.0" y="492.6" font-size="12" fill="#404040" textLength="24.8" lengthAdjust="spacingAndGlyphs">kWh</text>
<text x="770.8" y="492.6" font-size="12" fill="#404040" textLength="3.8" lengthAdjust="spacingAndGlyphs">)</text>
</svg></body></html>
